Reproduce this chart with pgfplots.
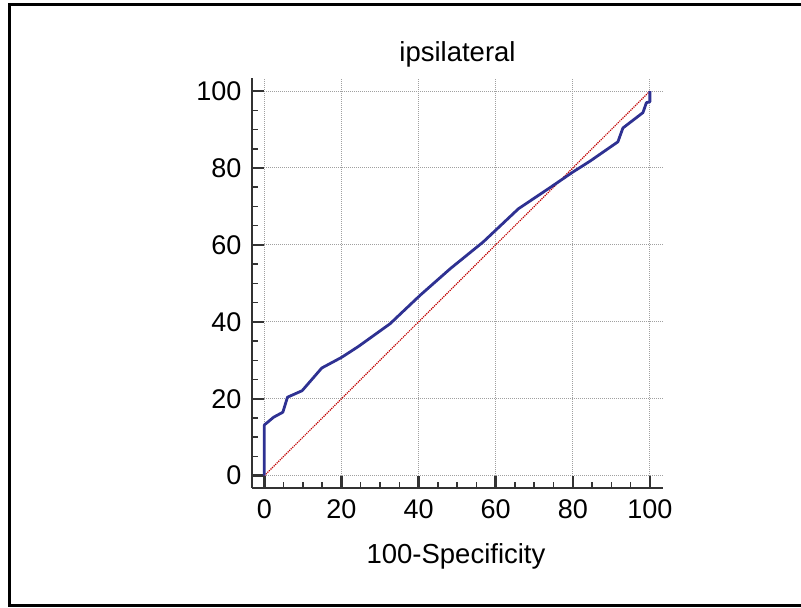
\documentclass[border=0pt]{standalone}
\usepackage{fontspec}
\setmainfont{Liberation Sans}
\usepackage{pgfplots}
\pgfplotsset{compat=1.18}
\definecolor{roc}{HTML}{2E3192}
\definecolor{diag}{HTML}{C00000}
\definecolor{axgray}{HTML}{333333}
\definecolor{gridgray}{HTML}{A0A0A0}
\begin{document}
\begin{tikzpicture}[x=1pt,y=1pt]
\useasboundingbox (0,0) rectangle (801,608);
% outer frame (its right side lies outside the picture)
\draw[line width=3pt] (801,603.5) -- (9.5,603.5) -- (9.5,2.5) -- (801,2.5);
\begin{axis}[at={(252pt,120pt)}, anchor=south west, scale only axis,
  width=411pt, height=410pt,
  xmin=-3.2, xmax=103.4, ymin=-3.2, ymax=103.4,
  axis lines=left, axis line style={-, line width=2.5pt, axgray},
  xtick={0,20,...,100}, ytick={0,20,...,100}, minor tick num=3,
  tick align=inside, major tick length=12.3pt, minor tick length=6pt,
  major tick style={line width=2.5pt, axgray},
  minor tick style={line width=1.5pt, axgray},
  tick label style={font=\fontsize{27}{30}\selectfont, text=black},
  /pgf/number format/assume math mode=true,
  xticklabel style={yshift=-8pt}, yticklabel style={xshift=-7pt},
  clip=false]
\pgfplotsinvokeforeach{0,20,40,60,80,100}{
  \draw[gridgray, densely dotted, line width=1pt] (axis cs:#1,0) -- (axis cs:#1,103.4);
  \draw[gridgray, densely dotted, line width=1pt] (axis cs:0,#1) -- (axis cs:103.4,#1);
}
\addplot[diag, densely dotted, line width=1.2pt] coordinates {(0,0) (100,100)};
\addplot[roc, line width=2.8pt, line join=round] coordinates {
(0,0) (0,13.2) (1.1,14.1) (2.4,15.2) (4.8,16.5) (6.0,20.4) (9.8,22.1)
(14.9,28.0) (20.1,30.8) (24.4,33.6) (32.6,39.5) (40.4,46.9) (48.2,53.8)
(56.8,60.8) (65.9,69.4) (74.1,74.9) (80.1,79.0) (84.5,81.8) (91.7,86.8)
(93,90.4) (98.2,94.4) (99.1,97) (100,97.2) (100,100)};
\end{axis}
\node[anchor=base, font=\fontsize{27.5}{30}\selectfont] at (457.5,546) {ipsilateral};
\node[anchor=base, font=\fontsize{27.5}{30}\selectfont] at (456,44) {100-Specificity};
\end{tikzpicture}
\end{document}
